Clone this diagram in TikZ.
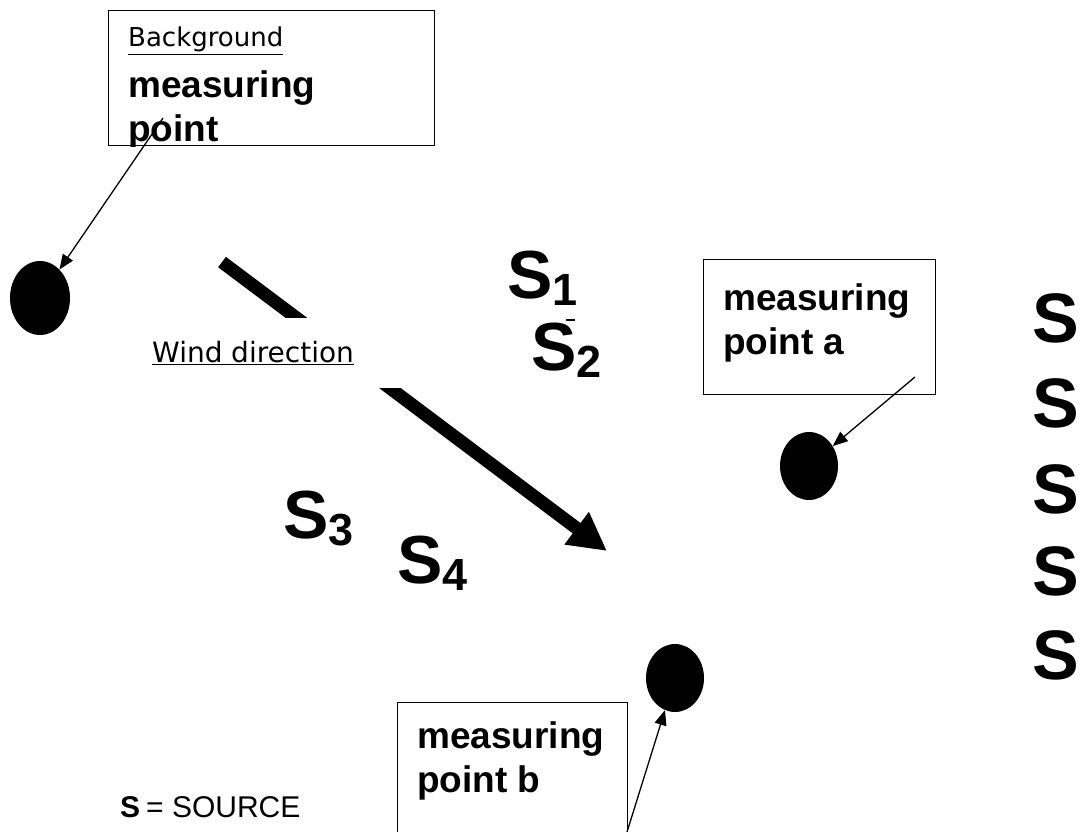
\documentclass[tikz,border=0pt]{standalone}
\usepackage{fontspec}
\setmainfont{Liberation Sans}
\newfontfamily\verdfont{DejaVu Sans}
\usetikzlibrary{arrows.meta,positioning,shapes.geometric}
\newcommand{\srclabel}[1]{S\raisebox{-7pt}{\fontsize{45}{45}\selectfont #1}}
\tikzset{
  pointbox/.style={
    rectangle, draw=black, line width=1.4pt, inner sep=0pt
  },
  dotmark/.style={
    ellipse, fill=black, inner sep=0pt,
    minimum width=58pt, minimum height=68pt
  },
  boxtext/.style={
    anchor=north west, inner sep=0pt, align=left,
    font=\fontsize{37}{44}\selectfont\bfseries
  },
  notetext/.style={
    inner sep=0pt, font=\verdfont\fontsize{26}{30}\selectfont
  },
  srcnode/.style={
    anchor=base west, inner sep=0pt,
    font=\fontsize{68}{68}\selectfont\bfseries
  },
  bigsrc/.style={
    anchor=base west, inner sep=0pt,
    font=\fontsize{70}{70}\selectfont\bfseries
  },
  thinarrow/.style={-{Triangle[length=15pt,width=12pt]}, line width=1.3pt},
  windarrow/.style={-{Triangle[length=38pt,width=38pt]}, line width=13pt},
}
\begin{document}
\begin{tikzpicture}[x=1pt,y=-1pt]
  \useasboundingbox (0,0) rectangle (1089,832);

  % measuring boxes
  \node[pointbox, minimum width=326pt, minimum height=135pt, anchor=north west] (bgbox) at (108,10) {};
  \node[notetext, anchor=base west] (bglabel) at (128,47) {\underline{Background}};
  \begin{scope}
    \clip (bgbox.north west) rectangle (bgbox.south east);
    \node[boxtext] (bgname) at (128,70) {measuring\\point};
  \end{scope}

  \node[pointbox, minimum width=232pt, minimum height=135pt, anchor=north west] (abox) at (703,259) {};
  \node[boxtext] (aname) at (723,283) {measuring\\point a};

  \node[pointbox, minimum width=230pt, minimum height=150pt, anchor=north west] (bbox) at (397,702) {};
  \node[boxtext] (bname) at (417,721) {measuring\\point b};

  % measuring points
  \node[dotmark, minimum width=60pt, minimum height=74pt] (bgdot) at (40,298) {};
  \node[dotmark] (adot) at (809,466) {};
  \node[dotmark] (bdot) at (675,678) {};

  \coordinate (bgtail) at (163,118);
  \coordinate (atail) at (915,377);
  \coordinate (btail) at (627,832);
  \foreach \a/\b in {bgtail/bgdot,atail/adot,btail/bdot}
    \draw[thinarrow] (\a) -- (\b);

  % wind
  \coordinate (windtail) at (222,262);
  \coordinate (windtip) at (607,551);
  \draw[windarrow] (windtail) -- (windtip);
  \node[notetext, fill=white, anchor=north west, minimum width=260pt,
        minimum height=70pt, inner xsep=7pt, text width=246pt, align=left] (windlabel) at (145,318)
        {\fontsize{28}{30}\selectfont\underline{Wind direction}\\[14pt]};

  % sources
  \node[srcnode] (s1) at (507,298) {\srclabel{1}};
  \node[srcnode] (s2) at (531,370) {\srclabel{2}};
  \draw[line width=2pt] (566,320) -- (575,320);
  \node[srcnode] (s3) at (283,538) {\srclabel{3}};
  \node[srcnode] (s4) at (397,583) {\srclabel{4}};

  \foreach \y [count=\i] in {342,427,513,595,679}
    \node[bigsrc] (r\i) at (1032,\y) {S};

  \node[anchor=base west, inner sep=0pt] (legend) at (120,817)
    {{\fontsize{30}{30}\selectfont\bfseries S}\hspace{6pt}{\fontsize{30}{30}\selectfont = SOURCE}};
\end{tikzpicture}
\end{document}
